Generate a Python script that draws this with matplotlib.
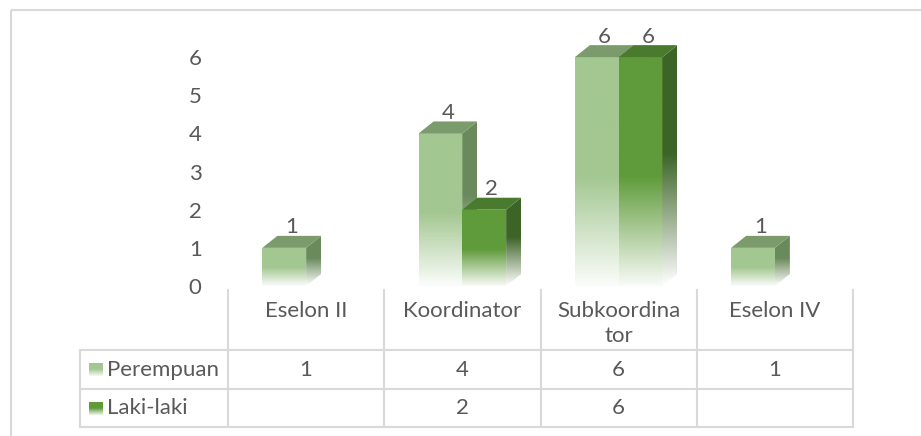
import numpy as np
import matplotlib
matplotlib.use('Agg')
import matplotlib.pyplot as plt
from matplotlib.patches import Polygon, Rectangle

# data
categories = ['Eselon II', 'Koordinator', 'Subkoordinator', 'Eselon IV']
series_names = ['Perempuan', 'Laki-laki']
perempuan = [1, 4, 6, 1]
laki_laki = [None, 2, 6, None]
y_ticks = [0, 1, 2, 3, 4, 5, 6]

# colours (front, top, side)
colors = {
    'Perempuan': ('#A3C791', '#7B9B6C', '#6A8A5C'),
    'Laki-laki': ('#5F9B3A', '#4A7A2E', '#3D6427'),
}
text_color = '#595959'
grid_color = '#D9D9D9'

plt.rcParams['font.family'] = ['Lato', 'DejaVu Sans']
fs = 16

W, H = 921, 436
fig = plt.figure(figsize=(W / 100, H / 100), dpi=100)
fig.patch.set_facecolor('white')

# overlay in pixel coords for table / frame
ov = fig.add_axes([0, 0, 1, 1], zorder=0)
ov.set_xlim(0, W)
ov.set_ylim(H, 0)
ov.axis('off')

# chart axes
x_left, x_right = 228, 853
y_zero, y_top = 286, 19
ax = fig.add_axes([x_left / W, 1 - y_zero / H, (x_right - x_left) / W, (y_zero - y_top) / H], zorder=1)
ax.patch.set_visible(False)
ax.set_xlim(-0.5, len(categories) - 0.5)
ax.set_ylim(0, 7.0)
for s in ax.spines.values():
    s.set_visible(False)
ax.set_xticks([])
ax.set_yticks(y_ticks)
ax.set_yticklabels([str(t) for t in y_ticks], fontsize=fs, color=text_color)
ax.tick_params(axis='y', length=0, pad=19)

bar_w = 0.28
dx = 15 / 156.25
dy = 12 / 38.14


def fade(color, n=200, solid=0.5, floor=0.04):
    # top rows = bar top; blend with white toward the bottom
    rgb = np.array(matplotlib.colors.to_rgb(color))
    frac = np.linspace(1, 0, n)
    a = np.clip(floor + frac / solid, 0, 1)
    img = a[:, None] * rgb[None, :] + (1 - a[:, None]) * 1.0
    return img[:, None, :]


z = 2
for si, (name, vals) in enumerate([('Perempuan', perempuan), ('Laki-laki', laki_laki)]):
    front_c, top_c, side_c = colors[name]
    offset = -bar_w / 2 if si == 0 else bar_w / 2
    for ci, v in enumerate(vals):
        if v is None:
            continue
        xc = ci + offset
        x0, x1 = xc - bar_w / 2, xc + bar_w / 2
        bar = ax.bar(xc, v, width=bar_w, color='none', edgecolor='none', zorder=z)[0]
        im = ax.imshow(fade(front_c), extent=(x0, x1, 0, v), origin='upper',
                       aspect='auto', zorder=z, interpolation='bilinear')
        im.set_clip_path(bar)
        side = Polygon([(x1, 0), (x1 + dx, dy), (x1 + dx, v + dy), (x1, v)],
                       closed=True, facecolor='none', edgecolor='none', zorder=z)
        ax.add_patch(side)
        im2 = ax.imshow(fade(side_c, floor=0.0, solid=0.55), extent=(x1, x1 + dx, 0, v + dy),
                        origin='upper', aspect='auto', zorder=z, interpolation='bilinear')
        im2.set_clip_path(side)
        top = Polygon([(x0, v), (x1, v), (x1 + dx, v + dy), (x0 + dx, v + dy)],
                      closed=True, facecolor=top_c, edgecolor='none', zorder=z + 0.5)
        ax.add_patch(top)
        ax.annotate(str(v), (xc + dx / 2, v + dy), xytext=(0, -1), textcoords='offset points',
                    ha='center', va='bottom', fontsize=fs, color=text_color, zorder=z + 1)
        z += 1

ax.set_xlim(-0.5, len(categories) - 0.5)
ax.set_ylim(0, 7.0)

# outer frame
ov.add_patch(Rectangle((11, 10), W, H, facecolor='none', edgecolor=grid_color, lw=1.5))

# data table
col_w = (x_right - x_left) / len(categories)
col_edges = [x_left + i * col_w for i in range(len(categories) + 1)]
row_top, row1, row2, row_bot = 290, 350, 389, 427
tab_left = 80
for xe in col_edges:
    ov.plot([xe, xe], [row_top, row_bot], color=grid_color, lw=1.5)
ov.plot([tab_left, tab_left], [row1, row_bot], color=grid_color, lw=1.5)
for yy in (row1, row2, row_bot):
    ov.plot([tab_left, x_right], [yy, yy], color=grid_color, lw=1.5)

for i, cat in enumerate(categories):
    label = cat if len(cat) <= 11 else cat[:11] + '\n' + cat[11:]
    ov.text(col_edges[i] + col_w / 2, 301, label, ha='center', va='top',
            fontsize=fs, color=text_color, linespacing=1.3)

row_mid = [(row1 + row2) / 2, (row2 + row_bot) / 2]
for ri, (name, vals) in enumerate([('Perempuan', perempuan), ('Laki-laki', laki_laki)]):
    ym = row_mid[ri]
    key = fade(colors[name][0], n=50, solid=0.6, floor=0.1)
    ov.imshow(key, extent=(89, 102, ym + 7, ym - 6), origin='upper', aspect='auto',
              interpolation='bilinear')
    ov.text(107, ym, name, ha='left', va='center', fontsize=fs, color=text_color)
    for ci, v in enumerate(vals):
        if v is None:
            continue
        ov.text(col_edges[ci] + col_w / 2, ym, str(v), ha='center', va='center',
                fontsize=fs, color=text_color)

ov.set_xlim(0, W)
ov.set_ylim(H, 0)

fig.savefig('out.png', dpi=100, facecolor='white')
